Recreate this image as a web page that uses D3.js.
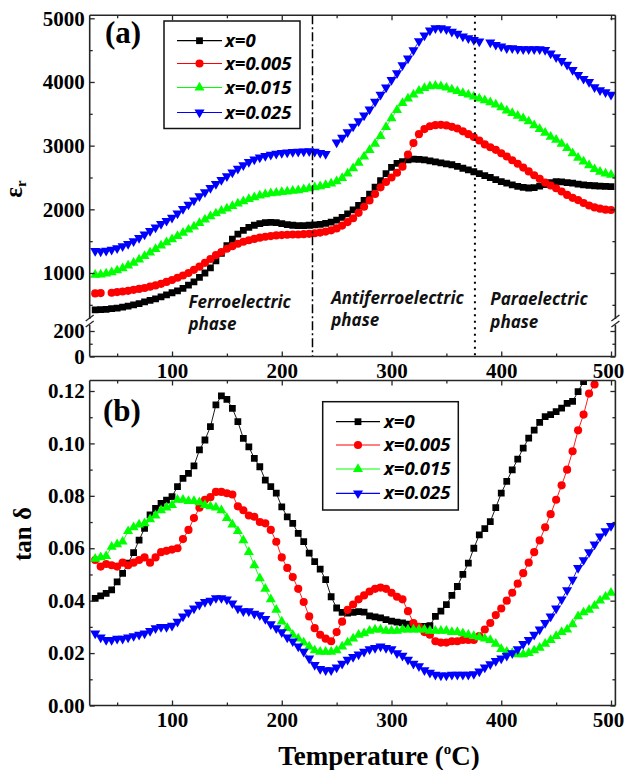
<!DOCTYPE html>
<html>
<head>
<meta charset="utf-8">
<script src="https://cdn.jsdelivr.net/npm/d3@7"></script>
<style>
  body { margin: 0; background: #fff; }
  svg { display: block; }
  .serif { font-family: "Liberation Serif", "DejaVu Serif", serif; font-weight: bold; }
  .sansit { font-family: "Open Sans", "Noto Sans", sans-serif; font-weight: bold; font-style: italic; }
</style>
</head>
<body>
<svg id="chart" width="625" height="770"></svg>
<script>
// ---------------- data ----------------
const temps = [
  30,35,40,45,50,55,60,65,70,75,
  80,85,90,95,100,105,110,115,120,125,
  130,135,140,145,150,155,160,165,170,175,
  180,185,190,195,200,205,210,215,220,225,
  230,235,240,245,250,255,260,265,270,275,
  280,285,290,295,300,305,310,315,320,325,
  330,335,340,345,350,355,360,365,370,375,
  380,385,390,395,400,405,410,415,420,425,
  430,435,440,445,450,455,460,465,470,475,
  480,485,490,495,500
];

// relative permittivity, panel (a)
const epsX0 = [
  420,425,430,440,450,465,480,500,520,545,
  570,595,625,655,690,720,760,810,860,930,
  1000,1080,1190,1310,1430,1530,1610,1670,1715,1750,
  1775,1790,1795,1790,1775,1760,1750,1745,1745,1750,
  1755,1765,1780,1800,1830,1875,1930,1990,2060,2140,
  2240,2350,2450,2560,2660,2720,2750,2775,2787,2785,
  2775,2760,2745,2730,2715,2700,2675,2645,2620,2590,
  2560,2530,2500,2465,2435,2410,2385,2360,2345,2335,
  2340,2365,2390,2420,2435,2430,2420,2410,2395,2385,
  2375,2370,2365,2360,2357
];
const epsX005 = [
  680,685,null,690,700,710,720,735,750,765,
  785,805,830,860,890,925,960,1000,1050,1100,
  1160,1220,1280,1330,1380,1420,1460,1490,1515,1535,
  1555,1570,1580,1590,1595,1600,1605,1605,1610,1615,
  1625,1635,1650,1670,1700,1745,1800,1860,1945,2040,
  2140,2240,2345,2430,2500,2575,2670,2860,3040,3180,
  3260,3305,3322,3327,3318,3295,3270,3225,3180,3135,
  3080,3020,2975,2934,2880,2830,2770,2715,2655,2595,
  2535,2480,2420,2375,2331,2280,2226,2180,2145,2100,
  2060,2030,2010,1995,1990
];
const epsX015 = [
  970,975,990,1010,1040,1075,1115,1160,1210,1265,
  1320,1375,1430,1480,1530,1580,1630,1680,1730,1785,
  1840,1890,1935,1975,2010,2050,2090,2125,2160,2190,
  2215,2235,2250,2260,2270,2280,2290,2300,2315,2330,
  2345,2360,2380,2405,2440,2490,2560,2645,2730,2830,
  2930,3030,3150,3290,3430,3560,3667,3740,3800,3860,
  3905,3930,3940,3930,3910,3880,3855,3825,3800,3770,
  3740,3710,3680,3645,3600,3550,3510,3470,3430,3380,
  3320,3260,3200,3140,3090,3030,2960,2880,2810,2750,
  2690,2630,2590,2560,2540
];
const epsX025 = [
  1345,1340,1350,1365,1390,1420,1455,1500,1550,1605,
  1660,1715,1770,1820,1870,1935,2005,2075,2140,2205,
  2270,2335,2400,2460,2520,2580,2640,2695,2745,2785,
  2815,2840,2860,2875,2885,2895,2900,2905,2910,2915,
  2905,2885,2870,null,3050,3125,3210,3300,3385,3475,
  3570,3690,3800,3915,4034,4139,4265,4370,4500,4640,
  4730,4810,4846,4846,4830,4790,4760,4715,4689,4660,
  4636,null,4620,4584,4558,4532,4532,4520,4516,4516,
  4516,4516,4505,4450,4390,4330,4270,4190,4110,4050,
  4000,3920,3870,3840,3800
];

// dielectric loss, panel (b)
const tanX0 = [
  0.0409,0.0418,0.0428,0.0441,0.0472,0.0504,0.0543,0.0583,0.0631,0.0676,
  0.0727,0.0752,0.0771,0.0784,0.0797,0.0835,0.0867,0.0886,0.0914,0.0975,
  0.1013,0.1064,0.1147,0.1181,0.1168,0.1134,0.1083,0.1019,0.0987,0.0943,
  0.0911,0.0860,0.0835,0.0810,0.0758,0.0720,0.0695,0.0657,0.0625,0.0581,
  0.0549,0.052,0.048,0.0415,0.0372,0.0355,0.0353,0.0355,0.0358,0.0356,
  0.0342,0.0338,0.0334,0.0328,0.0322,0.0318,0.0315,0.031,0.0303,0.0301,
  0.0302,0.0305,0.034,0.036,0.0385,0.042,0.0454,0.050,0.0543,0.060,
  0.0651,0.0675,0.0702,0.0755,0.081,0.0855,0.0899,0.094,0.0982,0.102,
  0.1051,0.108,0.1102,0.111,0.1121,0.1135,0.1153,0.116,0.1198,0.1236,
  null,null,null,null,null
];
const tanX005 = [
  0.0555,0.053,0.054,0.0535,0.053,0.0545,0.0535,0.0545,0.0555,0.0565,
  0.0545,0.0565,0.0585,0.059,0.0595,0.060,0.0635,0.067,0.0715,0.0755,
  0.0785,0.0795,0.0815,0.0815,0.081,0.0805,0.076,0.0745,0.0725,0.072,
  0.070,0.0695,0.067,0.0625,0.0565,0.0525,0.049,0.0445,0.0395,0.034,
  0.0295,0.027,0.0255,0.0245,0.028,0.032,0.0365,0.0385,0.0405,0.042,
  0.0435,0.0445,0.045,0.0445,0.043,0.0415,0.0405,0.036,0.0315,0.030,
  0.028,0.027,0.0245,0.024,0.024,0.0245,0.0245,0.025,0.025,0.025,
  0.0265,0.029,0.0315,0.0345,0.037,0.040,0.043,0.0465,0.0505,0.0545,
  0.0585,0.063,0.068,0.073,0.0785,0.084,0.090,0.097,0.105,0.111,
  0.119,0.1225,null,null,null
];
const tanX015 = [
  0.056,0.0565,0.057,0.0605,0.0615,0.0625,0.0665,0.068,0.069,0.0695,
  0.071,0.0725,0.0745,0.0755,0.0765,0.0785,0.0785,0.078,0.078,0.0775,
  0.0765,0.076,0.0755,0.0745,0.0715,0.069,0.0665,0.063,0.0585,0.0535,
  0.0485,0.0445,0.0405,0.0365,0.032,0.0295,0.027,0.0255,0.024,0.0225,
  0.021,0.0205,0.0205,0.0205,0.021,0.0225,0.024,0.0255,0.027,0.0275,
  0.0285,0.029,0.029,0.0285,0.0285,0.0285,0.029,0.029,0.029,0.029,
  0.029,0.0285,0.0285,0.0285,0.0285,0.028,0.028,0.0275,0.027,0.0265,
  0.026,0.0255,0.025,0.0235,0.0215,0.0205,0.020,0.0195,0.0195,0.020,
  0.021,0.022,0.0235,0.025,0.0265,0.028,0.029,0.031,0.034,0.0355,
  0.0365,0.038,0.040,0.0415,0.043
];
const tanX025 = [
  0.0275,0.026,0.025,0.025,0.0255,0.0255,0.026,0.0265,0.027,0.0275,
  0.0285,0.0295,0.030,0.030,0.0305,0.032,0.034,0.0355,0.037,0.0385,
  0.0395,0.040,0.041,0.041,0.0405,0.039,0.037,0.036,0.036,0.035,
  0.0345,0.033,0.031,0.0295,0.028,0.026,0.0245,0.0225,0.0205,0.018,
  0.0155,0.014,0.0135,0.0135,0.0145,0.016,0.0175,0.0185,0.0195,0.0205,
  0.0215,0.022,0.0225,0.022,0.0215,0.020,0.019,0.0175,0.016,0.015,
  0.0135,0.0125,0.0118,0.0115,0.0115,0.0118,0.0118,0.0118,0.0118,0.012,
  0.013,0.0145,0.0158,0.017,0.018,0.019,0.020,0.0215,0.0235,0.025,
  0.027,0.029,0.0315,0.034,0.037,0.0405,0.044,0.048,0.0525,0.0555,
  0.0585,0.0615,0.0645,0.0665,0.0685
];

const seriesNames  = ["x=0", "x=0.005", "x=0.015", "x=0.025"];
const seriesColors = ["#000000", "#ff0000", "#00ff00", "#0000ff"];
const seriesShapes = ["square", "circle", "triUp", "triDown"];

const xTicks = [100, 200, 300, 400, 500];
const xMinor = [50, 150, 250, 350, 450];
const epsTicksUpper = [1000, 2000, 3000, 4000, 5000];
const epsMinorUpper = [500, 1500, 2500, 3500, 4500];
const epsTicksLower = [0, 200];
const epsMinorLower = [100];
const tanTicks = [0, 0.02, 0.04, 0.06, 0.08, 0.10, 0.12];
const tanMinor = [0.01, 0.03, 0.05, 0.07, 0.09, 0.11];

const phaseBounds = [228, 376];
const phaseLabels = [
  { t: 115, lines: ["Ferroelectric", "phase"] },
  { t: 245, lines: ["Antiferroelectric", "phase"] },
  { t: 390, lines: ["Paraelectric", "phase"] }
];

// ---------------- layout ----------------
const svg = d3.select("#chart");
const AX = "#262626";

const left = 89.7, right = 615.4;
const topA = 15.3, botA = 356.5, breakY = 322;
const topB = 380.5, botB = 705.5;

const x = d3.scaleLinear().domain([25, 504]).range([left, right]);
const yUpper = d3.scaleLinear().domain([1000, 5000]).range([273, 18.3]);
const yLower = d3.scaleLinear().domain([0, 200]).range([botA, 331]);
const yB = d3.scaleLinear().domain([0, 0.12]).range([botB, 391]);

const defs = svg.append("defs");
defs.append("clipPath").attr("id", "clipA").append("rect")
  .attr("x", left).attr("y", topA).attr("width", right - left).attr("height", botA - topA);
defs.append("clipPath").attr("id", "clipB").append("rect")
  .attr("x", left).attr("y", topB).attr("width", right - left).attr("height", botB - topB);

function symbolPath(shape) {
  if (shape === "square") return d3.symbol().type(d3.symbolSquare).size(46)();
  if (shape === "circle") return d3.symbol().type(d3.symbolCircle).size(52)();
  return d3.symbol().type(d3.symbolTriangle).size(44)();
}
function symbolTransform(shape, px, py) {
  return shape === "triDown" ? `translate(${px},${py}) rotate(180)` : `translate(${px},${py})`;
}

function styleAxis(g, labels) {
  g.select(".domain").remove();
  g.attr("color", AX).attr("font-family", null).attr("font-size", null);
  g.selectAll(".tick line").attr("stroke-width", 1.3);
  if (labels) {
    g.selectAll(".tick text").attr("class", "serif")
      .style("font-size", "21px").attr("fill", "#000");
  } else {
    g.selectAll(".tick text").remove();
  }
}

function xAxes(yTop, yBot) {
  const gb = svg.append("g").attr("transform", `translate(0,${yBot})`)
    .call(d3.axisBottom(x).tickValues(xTicks).tickSizeInner(-5).tickSizeOuter(0).tickPadding(7).tickFormat(d3.format("d")));
  styleAxis(gb, true);
  // keep the last label inside the page edge
  gb.selectAll(".tick text").filter(d => d === 500).attr("dx", -3);
  const gbm = svg.append("g").attr("transform", `translate(0,${yBot})`)
    .call(d3.axisBottom(x).tickValues(xMinor).tickSizeInner(-3).tickSizeOuter(0));
  styleAxis(gbm, false);
  const gt = svg.append("g").attr("transform", `translate(0,${yTop})`)
    .call(d3.axisTop(x).tickValues(xTicks).tickSizeInner(-5).tickSizeOuter(0));
  styleAxis(gt, false);
  const gtm = svg.append("g").attr("transform", `translate(0,${yTop})`)
    .call(d3.axisTop(x).tickValues(xMinor).tickSizeInner(-3).tickSizeOuter(0));
  styleAxis(gtm, false);
}

function yAxes(scale, major, minor, labelFmt) {
  const gl = svg.append("g").attr("transform", `translate(${left},0)`)
    .call(d3.axisLeft(scale).tickValues(major).tickSizeInner(-5).tickSizeOuter(0).tickPadding(5).tickFormat(labelFmt));
  styleAxis(gl, true);
  const glm = svg.append("g").attr("transform", `translate(${left},0)`)
    .call(d3.axisLeft(scale).tickValues(minor).tickSizeInner(-3).tickSizeOuter(0));
  styleAxis(glm, false);
  const gr = svg.append("g").attr("transform", `translate(${right},0)`)
    .call(d3.axisRight(scale).tickValues(major).tickSizeInner(-5).tickSizeOuter(0));
  styleAxis(gr, false);
  const grm = svg.append("g").attr("transform", `translate(${right},0)`)
    .call(d3.axisRight(scale).tickValues(minor).tickSizeInner(-3).tickSizeOuter(0));
  styleAxis(grm, false);
}

function line(x1, y1, x2, y2, w) {
  svg.append("line").attr("x1", x1).attr("y1", y1).attr("x2", x2).attr("y2", y2)
    .attr("stroke", AX).attr("stroke-width", w || 1.6);
}

function drawSeries(clipId, yScale, valueSets, lineWidth) {
  const layer = svg.append("g").attr("clip-path", `url(#${clipId})`);
  valueSets.forEach((vals, i) => {
    const pts = temps.map((t, k) => ({ t, v: vals[k] }));
    const gen = d3.line().defined(d => d.v != null).x(d => x(d.t)).y(d => yScale(d.v));
    layer.append("path").attr("d", gen(pts)).attr("fill", "none")
      .attr("stroke", seriesColors[i]).attr("stroke-width", lineWidth);
    layer.selectAll(null).data(pts.filter(d => d.v != null)).join("path")
      .attr("d", symbolPath(seriesShapes[i]))
      .attr("transform", d => symbolTransform(seriesShapes[i], x(d.t), yScale(d.v)))
      .attr("fill", seriesColors[i]);
  });
}

function legend(bx, by, bw, bh, rowYs, lx1, lx2, tx) {
  svg.append("rect").attr("x", bx).attr("y", by).attr("width", bw).attr("height", bh)
    .attr("fill", "#fff").attr("stroke", "#111").attr("stroke-width", 1.5);
  seriesNames.forEach((name, i) => {
    const yy = rowYs[i];
    svg.append("line").attr("x1", lx1).attr("x2", lx2).attr("y1", yy).attr("y2", yy)
      .attr("stroke", seriesColors[i]).attr("stroke-width", 1.2);
    svg.append("path").attr("d", symbolPath(seriesShapes[i]))
      .attr("transform", symbolTransform(seriesShapes[i], (lx1 + lx2) / 2, yy))
      .attr("fill", seriesColors[i]);
    svg.append("text").attr("x", tx).attr("y", yy + 6).text(name)
      .attr("class", "sansit").style("font-size", "18.5px").attr("fill", "#000");
  });
}

// ---------------- panel (a): permittivity ----------------
drawSeries("clipA", yUpper, [epsX0, epsX005, epsX015, epsX025], 0.8);

// phase boundaries
svg.append("line").attr("x1", x(phaseBounds[0])).attr("x2", x(phaseBounds[0]))
  .attr("y1", topA).attr("y2", botA).attr("stroke", "#000").attr("stroke-width", 1.5)
  .attr("stroke-dasharray", "9,3,2,3");
svg.append("line").attr("x1", x(phaseBounds[1])).attr("x2", x(phaseBounds[1]))
  .attr("y1", topA).attr("y2", botA).attr("stroke", "#000").attr("stroke-width", 2)
  .attr("stroke-dasharray", "2,4.5");

// phase labels
const labelBaselines = [[308, 330], [304, 326], [305, 328]];
phaseLabels.forEach((p, i) => {
  p.lines.forEach((s, j) => {
    svg.append("text").attr("x", x(p.t)).attr("y", labelBaselines[i][j]).text(s)
      .attr("class", "sansit").style("font-size", "17px").attr("fill", "#111");
  });
});

// axes of panel (a)
xAxes(topA, botA);
yAxes(yUpper, epsTicksUpper, epsMinorUpper, d3.format("d"));
yAxes(yLower, epsTicksLower, epsMinorLower, d3.format("d"));

// frame with axis break
const gapTop = breakY - 3, gapBot = breakY + 3;
line(left, topA, right, topA);
line(left, botA, right, botA);
[left, right].forEach(xx => {
  line(xx, topA, xx, gapTop);
  line(xx, gapBot, xx, botA);
  line(xx - 4, gapTop + 2, xx + 4, gapTop - 4, 1.3);
  line(xx - 4, gapBot + 2, xx + 4, gapBot - 4, 1.3);
});

legend(164, 21, 136, 107.5, [40.7, 63.5, 87.5, 112.5], 177, 222, 225);

svg.append("text").attr("x", 105).attr("y", 43).text("(a)")
  .attr("class", "serif").style("font-size", "31px").attr("fill", "#000");

// y title of panel (a)
const epsTitle = svg.append("text").attr("transform", "translate(22,189) rotate(-90)")
  .attr("text-anchor", "middle").attr("class", "serif").style("font-size", "25px").attr("fill", "#000");
epsTitle.append("tspan").text("ε");
epsTitle.append("tspan").text("r").style("font-size", "15px").attr("dy", 4);

// ---------------- panel (b): loss tangent ----------------
drawSeries("clipB", yB, [tanX0, tanX005, tanX015, tanX025], 0.9);

xAxes(topB, botB);
yAxes(yB, tanTicks, tanMinor, d3.format(".2f"));

line(left, topB, right, topB);
line(left, botB, right, botB);
line(left, topB, left, botB);
line(right, topB, right, botB);

legend(322.7, 401.7, 135.6, 108.3, [421.7, 445, 469, 493.3], 336, 380, 384);

svg.append("text").attr("x", 103).attr("y", 421).text("(b)")
  .attr("class", "serif").style("font-size", "31px").attr("fill", "#000");

svg.append("text").attr("transform", "translate(31,534) rotate(-90)")
  .attr("text-anchor", "middle").attr("class", "serif").style("font-size", "25px")
  .attr("fill", "#000").text("tan δ");

// x title
const xTitle = svg.append("text").attr("x", 379).attr("y", 765).attr("text-anchor", "middle")
  .attr("class", "serif").style("font-size", "27px").attr("fill", "#000");
xTitle.append("tspan").text("Temperature (");
xTitle.append("tspan").text("o").style("font-size", "15px").attr("dy", -11);
xTitle.append("tspan").text("C)").attr("dy", 11);
</script>
</body>
</html>
